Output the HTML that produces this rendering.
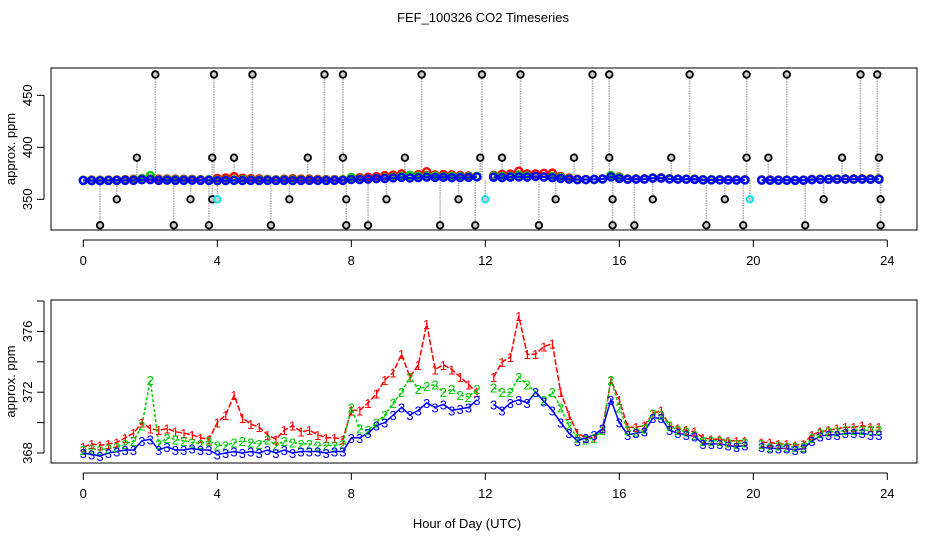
<!DOCTYPE html>
<html><head><meta charset="utf-8">
<style>
html,body{margin:0;padding:0;background:#fff;}
svg{display:block;font-family:"Liberation Sans",Arial,sans-serif;}
</style></head>
<body>
<svg id="chart" width="936" height="540" viewBox="0 0 936 540" xmlns="http://www.w3.org/2000/svg">
<rect x="0" y="0" width="936" height="540" fill="#fff"/>
<text x="483" y="22" font-size="13" text-anchor="middle">FEF_100326  CO2 Timeseries</text>
<text x="467" y="528" font-size="13" text-anchor="middle">Hour of Day (UTC)</text>
<g id="top"></g>
<g id="bot"></g>
</svg>
<script>
const hours = [];
for (let i = 0; i < 96; i++) hours.push(i * 0.25);
const series1 = [368.4,368.6,368.5,368.6,368.7,369.0,369.3,370.0,369.6,369.5,369.6,369.4,369.3,369.2,369.0,368.9,
370.0,370.5,371.8,370.3,369.9,369.7,369.2,368.9,369.5,369.8,369.4,369.5,369.2,369.0,369.0,368.9,
370.8,370.8,371.3,371.9,372.8,373.3,374.5,373.0,373.8,376.5,373.5,373.8,373.5,373.0,372.5,372.0,
null,373.0,374.0,374.3,377.0,374.5,374.5,375.0,375.2,372.0,370.5,369.3,369.0,369.0,369.6,372.8,
371.5,369.7,369.7,369.8,370.6,370.8,369.8,369.6,369.5,369.4,369.0,368.9,368.9,368.8,368.8,368.8,
null,368.7,368.7,368.6,368.6,368.5,368.6,369.2,369.4,369.5,369.6,369.7,369.7,369.8,369.7,369.7];
const series2 = [368.2,368.3,368.2,368.3,368.4,368.6,368.8,369.8,372.8,368.6,369.0,368.9,368.8,368.7,368.6,368.8,
368.5,368.5,368.7,368.8,368.7,368.6,368.9,368.5,368.8,368.7,368.6,368.6,368.5,368.5,368.5,368.6,
371.0,369.6,369.5,370.0,370.5,371.3,372.0,373.0,372.2,372.4,372.5,372.0,372.2,371.8,371.7,372.2,
null,372.3,372.0,372.0,373.0,372.5,372.0,371.5,372.0,371.0,369.8,369.0,368.9,369.0,369.5,372.8,
371.0,369.5,369.4,369.6,370.6,370.5,369.8,369.5,369.4,369.2,368.8,368.8,368.8,368.7,368.6,368.7,
null,368.6,368.4,368.5,368.4,368.4,368.4,369.0,369.3,369.4,369.4,369.5,369.5,369.5,369.5,369.5];
const series3 = [368.0,367.9,367.8,368.0,368.1,368.2,368.2,368.8,368.9,368.2,368.4,368.2,368.2,368.3,368.2,368.2,
367.9,368.0,368.1,368.0,368.1,368.0,368.2,368.0,368.2,368.0,368.1,368.1,368.1,368.0,368.1,368.1,
369.0,369.0,369.3,369.8,370.0,370.5,371.0,370.5,370.8,371.3,371.0,371.2,370.8,370.9,371.0,371.5,
null,371.2,370.8,371.3,371.5,371.3,372.0,371.4,370.8,370.0,369.3,368.8,369.0,369.2,369.6,371.5,
370.0,369.2,369.3,369.4,370.3,370.3,369.5,369.3,369.2,369.1,368.6,368.6,368.6,368.5,368.4,368.5,
null,368.4,368.3,368.3,368.3,368.2,368.3,368.8,369.1,369.2,369.2,369.3,369.3,369.3,369.2,369.2];
const calHours = [0.5,1.0,1.6,2.15,2.7,3.2,3.75,3.85,3.85,3.9,4.0,4.5,5.05,5.6,6.15,6.7,7.2,7.75,7.75,7.85,7.85,8.5,9.05,9.6,10.1,10.65,11.2,11.7,11.85,11.9,12.0,12.5,13.05,13.6,14.1,14.65,15.2,15.7,15.7,15.8,15.8,16.45,17.0,17.55,18.1,18.6,19.15,19.7,19.8,19.8,19.9,20.45,21.0,21.55,22.1,22.65,23.2,23.7,23.75,23.8,23.8];
const calValues = [325,350,390,470,325,350,325,390,350,470,350,390,470,325,350,390,470,470,390,350,325,325,350,390,470,325,350,325,390,470,350,390,470,325,350,390,470,470,390,350,325,325,350,390,470,325,350,325,390,470,350,390,470,325,350,390,470,470,390,350,325];
const calCyan = [0,0,0,0,0,0,0,0,0,0,1,0,0,0,0,0,0,0,0,0,0,0,0,0,0,0,0,0,0,0,1,0,0,0,0,0,0,0,0,0,0,0,0,0,0,0,0,0,0,0,1,0,0,0,0,0,0,0,0,0,0];
const xTicks = [0,4,8,12,16,20,24];
const topYTicks = [350,400,450];
const botYTicks = [368,370,372,374,376,378];
const botYLabels = [368,372,376];

const NS = "http://www.w3.org/2000/svg";
function mk(parent, tag, attrs){const e=document.createElementNS(NS,tag);for(const k in attrs)e.setAttribute(k,attrs[k]);parent.appendChild(e);return e;}
const xs = h => 83.3 + h * 33.5;
const yTop = v => 199.3 - (v - 350) * 1.04;
const yBot = v => 453 - (v - 368) * 15.2;
const cols = ["#ff0000","#00cc00","#0000ff"];
const allSeries = [series1, series2, series3];

function axes(g, top, bottom, yTicks, yLabels, yf){
  const box = mk(g,"rect",{x:51,y:top,width:866,height:bottom-top,fill:"none",stroke:"#000","stroke-width":1});
  
  
  const xl = mk(g,"line",{x1:xs(0),x2:xs(24),y1:bottom+10,y2:bottom+10,stroke:"#000"});
  
  
  xTicks.forEach(t=>{
    const tk = mk(g,"line",{x1:xs(t),x2:xs(t),y1:bottom+10,y2:bottom+17,stroke:"#000"});
    
    
    const tl = mk(g,"text",{x:xs(t),y:bottom+35,"font-size":13,"text-anchor":"middle"});
    tl.textContent = t;
    
    
  });
  const yl = mk(g,"line",{x1:44,x2:44,y1:yf(yTicks[0]),y2:yf(yTicks[yTicks.length-1]),stroke:"#000"});
  
  
  yTicks.forEach(t=>{
    const tk = mk(g,"line",{x1:37,x2:44,y1:yf(t),y2:yf(t),stroke:"#000"});
    
    
  });
  yLabels.forEach(t=>{
    const tl = mk(g,"text",{x:0,y:0,"font-size":13,"text-anchor":"middle",transform:`translate(32,${yf(t)}) rotate(-90)`});
    tl.textContent = t;
    
    
  });
  const yt = mk(g,"text",{x:0,y:0,"font-size":13,"text-anchor":"middle",transform:`translate(15,${(top+bottom)/2}) rotate(-90)`});
  yt.textContent = "approx. ppm";
  
  
}

function segs(arr, yf){
  let d="", pen=false;
  arr.forEach((v,i)=>{ if(v===null){pen=false;return;} d += (pen?"L":"M")+xs(hours[i]).toFixed(1)+","+yf(v).toFixed(1); pen=true;});
  return d;
}

// TOP PANEL
const gt = document.getElementById("top");
axes(gt, 68, 230, topYTicks, topYTicks, yTop);
calHours.forEach((h,i)=>{
  const idx = Math.min(95, Math.round(h*4));
  const base = series3[idx] !== null ? series3[idx] : 368.5;
  const ln = mk(gt,"line",{x1:xs(h),x2:xs(h),y1:yTop(base),y2:yTop(calValues[i]),stroke:"#aaa","stroke-dasharray":"1.5,1","stroke-width":1.5});
  
  
});
allSeries.forEach((s,k)=>{
  const p = mk(gt,"path",{d:segs(s,yTop),fill:"none",stroke:cols[k],"stroke-width":2});
  
  
  s.forEach((v,i)=>{ if(v===null) return;
    const c = mk(gt,"circle",{cx:xs(hours[i]),cy:yTop(v),r:3.5,fill:"none",stroke:cols[k],"stroke-width":2.4});
    
    
  });
});
calHours.forEach((h,i)=>{
  const c = mk(gt,"circle",{cx:xs(h),cy:yTop(calValues[i]),r:3.3,fill:"#ccc",stroke:calCyan[i]?"#00e5ee":"#000","stroke-width":1.8});
  
  
});

// BOTTOM PANEL
const gb = document.getElementById("bot");
axes(gb, 300, 463, botYTicks, botYLabels, yBot);
const dashes = ["6,2","3,2","none"];
allSeries.forEach((s,k)=>{
  const p = mk(gb,"path",{d:segs(s,yBot),fill:"none",stroke:cols[k],"stroke-width":1.5,"stroke-dasharray":dashes[k]});
  
  
});
allSeries.forEach((s,k)=>{
  s.forEach((v,i)=>{ if(v===null) return;
    const t = mk(gb,"text",{x:xs(hours[i]),y:yBot(v)+5,"font-size":13,"text-anchor":"middle",fill:cols[k]});
    t.textContent = String(k+1);
    
    
  });
});
</script>
</body></html>
